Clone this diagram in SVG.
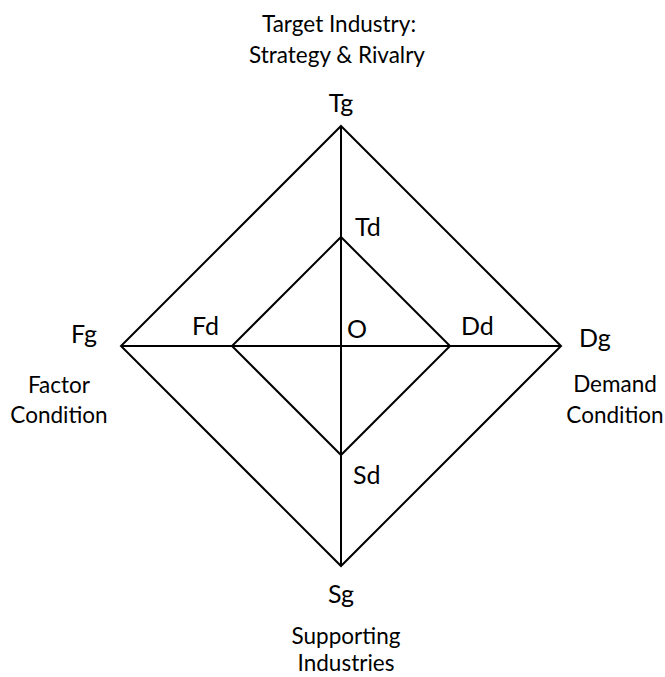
<svg xmlns="http://www.w3.org/2000/svg" width="665" height="677" viewBox="0 0 665 677">
<style>
.ln{stroke:#000;stroke-width:2;fill:none;stroke-linejoin:miter}
.big{font-family:Lato,"Open Sans","Liberation Sans",sans-serif;font-size:25px;fill:#000}
.sm{font-family:Lato,"Open Sans","Liberation Sans",sans-serif;font-size:22.5px;fill:#000;text-anchor:middle}
</style>
<rect width="665" height="677" fill="#fff"/>
<g id="connectors">
<polygon class="ln" points="341,126 561,346 341,566 121,346"/>
<polygon class="ln" points="341,237 450,346 341,455 232,346"/>
<line class="ln" x1="341" y1="126" x2="341" y2="566"/>
<line class="ln" x1="121" y1="346" x2="561" y2="346"/>
</g>
<g id="Tg"><text class="big" x="341" y="112" text-anchor="middle">Tg</text></g>
<g id="Td"><text class="big" x="355" y="236">Td</text></g>
<g id="O"><text class="big" x="347" y="338">O</text></g>
<g id="Fd"><text class="big" x="192" y="335">Fd</text></g>
<g id="Dd"><text class="big" x="461" y="335">Dd</text></g>
<g id="Fg"><text class="big" x="71" y="343">Fg</text></g>
<g id="Dg"><text class="big" x="579" y="347">Dg</text></g>
<g id="Sd"><text class="big" x="353" y="484">Sd</text></g>
<g id="Sg"><text class="big" x="341" y="603" text-anchor="middle">Sg</text></g>
<g id="label-target"><text class="sm" x="339" y="32">Target Industry:</text><text class="sm" x="337" y="63">Strategy &amp; Rivalry</text></g>
<g id="label-factor"><text class="sm" x="59" y="393">Factor</text><text class="sm" x="59" y="423">Condition</text></g>
<g id="label-demand"><text class="sm" x="615" y="392">Demand</text><text class="sm" x="615" y="423">Condition</text></g>
<g id="label-supporting"><text class="sm" x="346" y="644">Supporting</text><text class="sm" x="346" y="671">Industries</text></g>
</svg>
